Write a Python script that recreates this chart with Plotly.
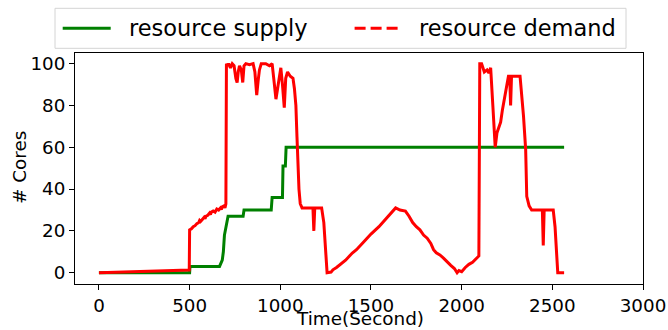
import plotly.graph_objects as go

supply_t = [0, 500, 502, 665, 680, 686, 692, 700, 712, 795, 800, 950, 955, 1012, 1015, 1028, 1032, 2565]
supply_v = [0, 0, 3, 3, 6, 10, 18, 22, 27, 27, 30, 30, 36, 36, 51, 51, 60, 60]

demand_t = [0, 100, 200, 300, 400, 498, 500, 510, 520, 530, 540, 550, 555, 560, 570, 580, 585, 590, 600,
            610, 615, 620, 630, 640, 650, 660, 670, 675, 680, 690, 695, 700,
            703, 710, 715, 725, 735, 745, 755, 762, 768, 775, 785, 793, 800, 810, 830, 850, 860, 870,
            878, 885, 895, 920, 940, 955, 965, 976, 985, 995, 1003, 1012, 1022, 1030, 1040, 1055, 1070,
            1078, 1086, 1092, 1097, 1103, 1110, 1120, 1180, 1185, 1190, 1228, 1240, 1250, 1258, 1280,
            1290, 1310, 1343, 1360, 1397, 1420, 1471, 1500, 1544, 1580, 1617, 1636, 1660, 1690, 1710,
            1730, 1750, 1770, 1790, 1810, 1830, 1845, 1860, 1880, 1900, 1920, 1940, 1960, 1975, 1985,
            2000, 2020, 2040, 2060, 2080, 2090, 2095, 2100, 2110, 2125, 2140, 2150, 2160, 2172, 2185,
            2195, 2205, 2215, 2225, 2240, 2258, 2265, 2270, 2275, 2322, 2341, 2353, 2359, 2372, 2386,
            2445, 2450, 2455, 2505, 2515, 2530, 2565]
demand_v = [0, 0.2, 0.5, 0.7, 1.0, 1.3, 20.5, 21, 22, 22.5, 23.5, 24, 25, 24.5, 25.5, 26.5, 25.8, 27, 27.5,
            28.5, 27.8, 29, 29.5, 29, 30.5, 30, 31, 30.3, 31.5, 32, 31, 33,
            100, 99, 100, 98, 100, 99, 93, 91, 96, 99, 97, 91, 99, 100, 99.5, 100, 96, 85,
            92, 97, 100, 100, 99, 100, 92, 83, 88, 95, 98, 90, 79, 93, 96, 94, 93,
            88, 80, 65, 52, 40, 33, 31, 31, 20, 31, 31, 24, 10, 0, 0.3,
            1.4, 2.5, 4.6, 6, 9.4, 11, 15.8, 18.5, 22, 25.5, 29.3, 31, 30, 29.5, 27,
            24, 22, 20.5, 18, 16.5, 14, 11, 9.5, 8.5, 7, 5, 3.5, 2, 0, 1,
            0.5, 2.5, 4, 5, 6.5, 7.5, 8, 100, 100, 96, 97, 95.5, 98, 80, 60,
            67, 70, 72, 78, 86, 94, 94, 80, 94, 94, 75, 59, 36.5, 32, 30,
            30, 13, 30, 30, 22, 0, 0]

x_ticks = [0, 500, 1000, 1500, 2000, 2500, 3000]
y_ticks = [0, 20, 40, 60, 80, 100]
legend_labels = ["resource supply", "resource demand"]
x_title = "Time(Second)"
y_title = "# Cores"

W, H = 668, 330
L, R, T, B = 75, 25, 53, 46
pw, ph = W - L - R, H - T - B


def px(x):
    return (x - L) / pw


def py(y):
    return (H - B - y) / ph


fig = go.Figure()
fig.add_trace(go.Scatter(x=supply_t, y=supply_v, mode="lines", name=legend_labels[0],
                         line=dict(color="#008000", width=3), showlegend=False))
fig.add_trace(go.Scatter(x=demand_t, y=demand_v, mode="lines", name=legend_labels[1],
                         line=dict(color="#ff0000", width=3), showlegend=False))

# legend drawn as shapes + text (matplotlib-like layout)
shapes = [
    dict(type="rect", xref="paper", yref="paper", x0=px(55), x1=px(626), y0=py(48.3), y1=py(8.3),
         line=dict(color="#d4d4d4", width=1), fillcolor="white", layer="above"),
    dict(type="line", xref="paper", yref="paper", x0=px(62.7), x1=px(110.7), y0=py(28.3), y1=py(28.3),
         line=dict(color="#008000", width=3)),
    dict(type="line", xref="paper", yref="paper", x0=px(354.6), x1=px(399.6), y0=py(28.3), y1=py(28.3),
         line=dict(color="#ff0000", width=3, dash="11px,5px")),
]
annotations = [
    dict(text=legend_labels[0], xref="paper", yref="paper", x=px(127), y=py(28.3), xanchor="left",
         yanchor="middle", showarrow=False, font=dict(size=22.5, color="black")),
    dict(text=legend_labels[1], xref="paper", yref="paper", x=px(416.5), y=py(28.3), xanchor="left",
         yanchor="middle", showarrow=False, font=dict(size=22.5, color="black")),
    dict(text=x_title, xref="paper", yref="paper", x=px(360), y=py(318.5), xanchor="center",
         yanchor="middle", showarrow=False, font=dict(size=18.4, color="black")),
    dict(text=y_title, xref="paper", yref="paper", x=px(19), y=py(168), xanchor="center",
         yanchor="middle", textangle=-90, showarrow=False, font=dict(size=18.4, color="black")),
]

axis_common = dict(showline=True, linecolor="black", linewidth=1, mirror=True, ticks="outside",
                   ticklen=5, tickcolor="black", showgrid=False, zeroline=False, automargin=False,
                   tickfont=dict(size=18.3, color="black"))
fig.update_layout(
    width=W, height=H,
    margin=dict(l=L, r=R, t=T, b=B),
    paper_bgcolor="white", plot_bgcolor="white",
    font=dict(family="DejaVu Sans", size=18.3, color="black"),
    xaxis=dict(range=[-132, 3000], tickvals=x_ticks, **axis_common),
    yaxis=dict(range=[-5.4, 105.1], tickvals=y_ticks, **axis_common),
    shapes=shapes,
    annotations=annotations,
    showlegend=False,
)
fig.write_html("out.html", config={"displayModeBar": False},
               post_script="document.body.style.margin='0';")
